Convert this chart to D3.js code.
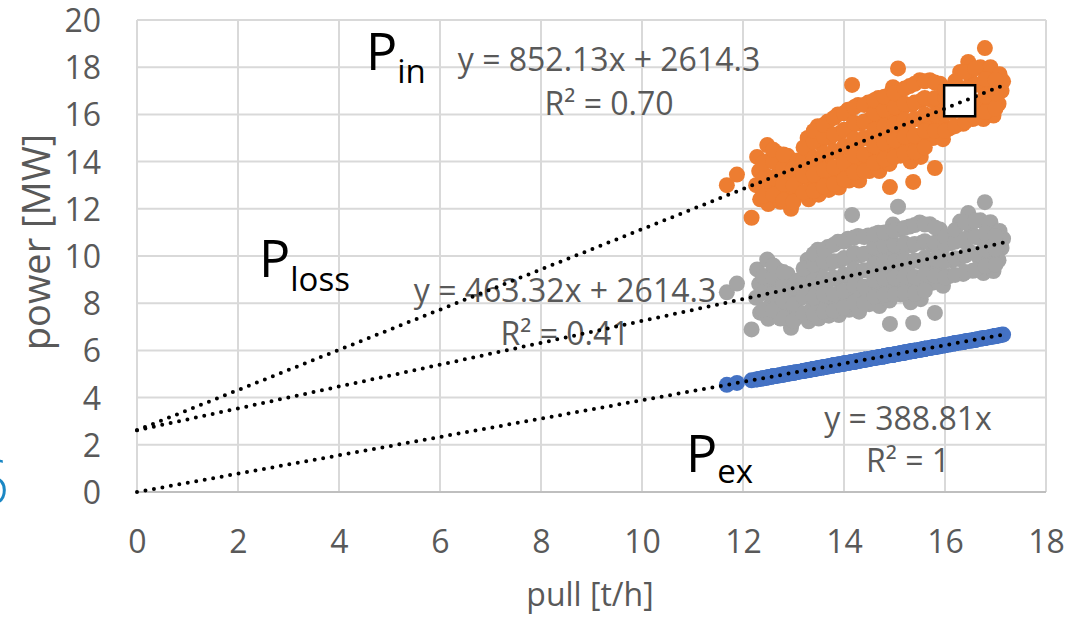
<!DOCTYPE html>
<html>
<head>
<meta charset="utf-8">
<script src="https://cdn.jsdelivr.net/npm/d3@7"></script>
<style>
  html, body { margin: 0; padding: 0; background: #ffffff; }
  svg { display: block; }
  text { font-family: "Open Sans", "Noto Sans", sans-serif; }
</style>
</head>
<body>
<svg id="chart" width="1074" height="617"></svg>
<script>
// Furnace measurements: pull rate [t/h] against power [MW]
const pull = [
  11.68, 11.88, 12.17, 12.28, 12.32, 12.26, 12.34, 12.48, 12.52, 12.46,
  12.55, 12.50, 12.68, 12.72, 12.66, 12.74, 12.88, 12.92, 12.86, 12.95,
  13.08, 13.12, 13.05, 13.28, 13.32, 13.26, 13.35, 13.30, 13.48, 13.52,
  13.46, 13.55, 13.50, 13.68, 13.72, 13.66, 13.75, 13.70, 13.88, 13.92,
  13.86, 13.95, 13.90, 14.16, 14.08, 14.12, 14.06, 14.14, 14.10, 14.28,
  14.32, 14.26, 14.35, 14.30, 14.48, 14.52, 14.46, 14.55, 14.50, 14.68,
  14.72, 14.66, 14.75, 14.70, 14.97, 15.07, 14.88, 14.92, 14.86, 14.95,
  14.90, 14.91, 15.10, 15.14, 15.08, 15.16, 15.12, 15.30, 15.34, 15.28,
  15.36, 15.32, 15.37, 15.50, 15.54, 15.48, 15.56, 15.52, 15.70, 15.74,
  15.68, 15.76, 15.80, 15.90, 15.94, 15.88, 15.96, 16.10, 16.14, 16.08,
  16.30, 16.34, 16.28, 16.36, 16.46, 16.52, 16.48, 16.55, 16.79, 16.70,
  16.74, 16.68, 16.76, 16.90, 16.94, 16.88, 16.96, 17.08, 17.12, 17.06,
  17.15,
  12.40, 12.40, 12.40, 12.60, 12.60, 12.60, 12.60, 12.80, 12.80, 12.80,
  12.80, 13.00, 13.00, 13.00, 13.20, 13.20, 13.20, 13.20, 13.40, 13.40,
  13.40, 13.40, 13.40, 13.60, 13.60, 13.60, 13.60, 13.60, 13.80, 13.80,
  13.80, 13.80, 13.80, 14.00, 14.00, 14.00, 14.00, 14.00, 14.20, 14.20,
  14.20, 14.20, 14.20, 14.40, 14.40, 14.40, 14.40, 14.40, 14.60, 14.60,
  14.60, 14.60, 14.60, 14.80, 14.80, 14.80, 14.80, 14.80, 15.00, 15.00,
  15.00, 15.00, 15.00, 15.20, 15.20, 15.20, 15.20, 15.20, 15.40, 15.40,
  15.40, 15.40, 15.40, 15.60, 15.60, 15.60, 15.60, 15.60, 15.80, 15.80,
  15.80, 15.80, 16.00, 16.00, 16.00, 16.00, 16.20, 16.20, 16.20, 16.20,
  16.40, 16.40, 16.40, 16.40, 16.60, 16.60, 16.60, 16.60, 16.80, 16.80,
  16.80, 17.00, 17.00, 17.00
];

// Input power P_in [MW]
const pIn = [
  13.00, 13.45, 11.62, 14.20, 13.60, 13.00, 12.40, 14.70, 14.05, 13.40,
  12.80, 12.20, 14.35, 13.65, 12.95, 12.30, 14.25, 13.50, 12.70, 12.00,
  14.05, 13.30, 12.60, 15.00, 14.30, 13.60, 12.90, 12.40, 15.50, 14.80,
  14.00, 13.30, 12.60, 15.70, 15.00, 14.20, 13.50, 12.80, 16.00, 15.20,
  14.40, 13.60, 12.90, 17.25, 16.20, 15.40, 14.60, 13.80, 13.20, 16.40,
  15.60, 14.80, 14.00, 13.20, 16.50, 15.80, 15.00, 14.30, 13.60, 16.70,
  15.90, 15.10, 14.30, 13.60, 17.15, 17.95, 16.80, 16.00, 15.20, 14.50,
  13.90, 12.92, 17.00, 16.20, 15.40, 14.60, 14.25, 17.20, 16.40, 15.60,
  14.80, 14.00, 13.14, 17.45, 16.60, 15.80, 15.00, 14.20, 17.45, 16.60,
  15.80, 15.00, 13.73, 17.30, 16.50, 15.70, 14.95, 16.80, 16.10, 15.40,
  17.80, 17.00, 16.20, 15.60, 18.22, 17.40, 16.60, 15.80, 18.81, 18.00,
  17.20, 16.40, 15.80, 18.00, 17.20, 16.40, 15.95, 17.70, 17.00, 16.45,
  17.40,
  12.55, 13.25, 13.95, 12.60, 13.30, 14.00, 14.50, 12.35, 13.05, 13.75,
  14.30, 12.30, 13.00, 13.70, 12.70, 13.40, 14.10, 14.60, 12.75, 13.45,
  14.15, 14.85, 15.30, 12.95, 13.65, 14.35, 15.05, 15.55, 13.05, 13.75,
  14.45, 15.15, 15.85, 13.25, 13.95, 14.65, 15.35, 16.05, 13.55, 14.25,
  14.95, 15.65, 16.30, 13.60, 14.30, 15.00, 15.70, 16.40, 13.95, 14.65,
  15.35, 16.05, 16.60, 14.10, 14.80, 15.50, 16.20, 16.75, 14.20, 14.90,
  15.60, 16.30, 16.90, 14.35, 15.05, 15.75, 16.45, 17.10, 14.40, 15.10,
  15.80, 16.50, 17.30, 14.60, 15.30, 16.00, 16.70, 17.40, 15.30, 16.00,
  16.70, 17.35, 15.30, 16.00, 16.70, 17.05, 15.50, 16.20, 16.90, 17.40,
  15.70, 16.40, 17.10, 17.80, 15.85, 16.55, 17.25, 17.95, 16.10, 16.80,
  17.50, 16.25, 16.90, 17.45
];

// Power carried out with the product P_ex [MW]
const pEx = [
  4.54, 4.62, 4.73, 4.77, 4.79, 4.77, 4.80, 4.85, 4.87, 4.84,
  4.88, 4.86, 4.93, 4.95, 4.92, 4.95, 5.01, 5.02, 5.00, 5.04,
  5.09, 5.10, 5.07, 5.16, 5.18, 5.16, 5.19, 5.17, 5.24, 5.26,
  5.23, 5.27, 5.25, 5.32, 5.33, 5.31, 5.35, 5.33, 5.40, 5.41,
  5.39, 5.42, 5.40, 5.51, 5.47, 5.49, 5.47, 5.50, 5.48, 5.55,
  5.57, 5.54, 5.58, 5.56, 5.63, 5.65, 5.62, 5.66, 5.64, 5.71,
  5.72, 5.70, 5.73, 5.72, 5.82, 5.86, 5.79, 5.80, 5.78, 5.81,
  5.79, 5.80, 5.87, 5.89, 5.86, 5.89, 5.88, 5.95, 5.96, 5.94,
  5.97, 5.96, 5.98, 6.03, 6.04, 6.02, 6.05, 6.03, 6.10, 6.12,
  6.10, 6.13, 6.14, 6.18, 6.20, 6.17, 6.21, 6.26, 6.28, 6.25,
  6.34, 6.35, 6.33, 6.36, 6.40, 6.42, 6.41, 6.43, 6.53, 6.49,
  6.51, 6.49, 6.52, 6.57, 6.59, 6.56, 6.59, 6.64, 6.66, 6.63,
  6.67,
  4.82, 4.82, 4.82, 4.90, 4.90, 4.90, 4.90, 4.98, 4.98, 4.98,
  4.98, 5.05, 5.05, 5.05, 5.13, 5.13, 5.13, 5.13, 5.21, 5.21,
  5.21, 5.21, 5.21, 5.29, 5.29, 5.29, 5.29, 5.29, 5.37, 5.37,
  5.37, 5.37, 5.37, 5.44, 5.44, 5.44, 5.44, 5.44, 5.52, 5.52,
  5.52, 5.52, 5.52, 5.60, 5.60, 5.60, 5.60, 5.60, 5.68, 5.68,
  5.68, 5.68, 5.68, 5.75, 5.75, 5.75, 5.75, 5.75, 5.83, 5.83,
  5.83, 5.83, 5.83, 5.91, 5.91, 5.91, 5.91, 5.91, 5.99, 5.99,
  5.99, 5.99, 5.99, 6.07, 6.07, 6.07, 6.07, 6.07, 6.14, 6.14,
  6.14, 6.14, 6.22, 6.22, 6.22, 6.22, 6.30, 6.30, 6.30, 6.30,
  6.38, 6.38, 6.38, 6.38, 6.45, 6.45, 6.45, 6.45, 6.53, 6.53,
  6.53, 6.61, 6.61, 6.61
];

// Losses P_loss [MW]
const pLoss = [
  8.46, 8.83, 6.89, 9.43, 8.81, 8.23, 7.60, 9.85, 9.18, 8.56,
  7.92, 7.34, 9.42, 8.70, 8.03, 7.35, 9.24, 8.48, 7.70, 6.96,
  8.96, 8.20, 7.53, 9.84, 9.12, 8.44, 7.71, 7.23, 10.26, 9.54,
  8.77, 8.03, 7.35, 10.38, 9.67, 8.89, 8.15, 7.47, 10.60, 9.79,
  9.01, 8.18, 7.50, 11.74, 10.73, 9.91, 9.13, 8.30, 7.72, 10.85,
  10.03, 9.26, 8.42, 7.64, 10.87, 10.15, 9.38, 8.64, 7.96, 10.99,
  10.18, 9.40, 8.57, 7.88, 11.33, 12.09, 11.01, 10.20, 9.42, 8.69,
  8.11, 7.12, 11.13, 10.31, 9.54, 8.71, 8.37, 11.25, 10.44, 9.66,
  8.83, 8.04, 7.16, 11.42, 10.56, 9.78, 8.95, 8.17, 11.35, 10.48,
  9.70, 8.87, 7.59, 11.12, 10.30, 9.53, 8.74, 10.54, 9.82, 9.15,
  11.46, 10.65, 9.87, 9.24, 11.82, 10.98, 10.19, 9.37, 12.28, 11.51,
  10.69, 9.91, 9.28, 11.43, 10.61, 9.84, 9.36, 11.06, 10.34, 9.82,
  10.73,
  7.73, 8.43, 9.13, 7.70, 8.40, 9.10, 9.60, 7.37, 8.07, 8.77,
  9.32, 7.25, 7.95, 8.65, 7.57, 8.27, 8.97, 9.47, 7.54, 8.24,
  8.94, 9.64, 10.09, 7.66, 8.36, 9.06, 9.76, 10.26, 7.68, 8.38,
  9.08, 9.78, 10.48, 7.81, 8.51, 9.21, 9.91, 10.61, 8.03, 8.73,
  9.43, 10.13, 10.78, 8.00, 8.70, 9.40, 10.10, 10.80, 8.27, 8.97,
  9.67, 10.37, 10.92, 8.35, 9.05, 9.75, 10.45, 11.00, 8.37, 9.07,
  9.77, 10.47, 11.07, 8.44, 9.14, 9.84, 10.54, 11.19, 8.41, 9.11,
  9.81, 10.51, 11.31, 8.53, 9.23, 9.93, 10.63, 11.33, 9.16, 9.86,
  10.56, 11.21, 9.08, 9.78, 10.48, 10.83, 9.20, 9.90, 10.60, 11.10,
  9.32, 10.02, 10.72, 11.42, 9.40, 10.10, 10.80, 11.50, 9.57, 10.27,
  10.97, 9.64, 10.29, 10.84
];

// Linear trendlines, coefficients in kW (slope per t/h, intercept)
const trendNames = ["in", "loss", "ex"];
const trendSlope = [852.13, 463.32, 388.81];
const trendIntercept = [2614.3, 2614.3, 0];
const trendEquation = ["y = 852.13x + 2614.3", "y = 463.32x + 2614.3", "y = 388.81x"];
const trendR2 = ["R² = 0.70", "R² = 0.41", "R² = 1"];

// Highlighted operating point (pull, P_in)
const markerPoint = [16.28, 16.6];

const xTicks = [0, 2, 4, 6, 8, 10, 12, 14, 16, 18];
const yTicks = [0, 2, 4, 6, 8, 10, 12, 14, 16, 18, 20];

const colors = { in: "#ED7D31", loss: "#A5A5A5", ex: "#4472C4" };
const textGrey = "#595959";

const svg = d3.select("#chart");
const x = d3.scaleLinear().domain([0, 18]).range([137, 1046]);
const y = d3.scaleLinear().domain([0, 20]).range([492, 20]);

// stray caption glyph at the left edge
svg.append("text")
  .attr("x", 9).attr("y", 504)
  .attr("text-anchor", "end")
  .attr("font-size", 60)
  .attr("font-weight", 300)
  .attr("fill", "#1b87c4")
  .text("6");

// gridlines
const grid = svg.append("g");
grid.selectAll("line.h").data(yTicks.filter(d => d > 0)).join("line")
  .attr("x1", x(0)).attr("x2", x(18))
  .attr("y1", d => y(d)).attr("y2", d => y(d))
  .attr("stroke", "#d9d9d9").attr("stroke-width", 2);
grid.selectAll("line.v").data(xTicks).join("line")
  .attr("x1", d => x(d)).attr("x2", d => x(d))
  .attr("y1", y(0)).attr("y2", y(20))
  .attr("stroke", "#d9d9d9").attr("stroke-width", 2);

// axes (labels only, baseline drawn separately)
const xAxis = d3.axisBottom(x).tickValues(xTicks).tickSize(0).tickPadding(0);
const gx = svg.append("g").attr("transform", `translate(0,${y(0)})`).call(xAxis);
gx.select(".domain").remove();
gx.selectAll("text")
  .attr("dy", null).attr("y", 61)
  .attr("font-size", 32).attr("fill", textGrey)
  .style("font-family", "'Open Sans', sans-serif");

const yAxis = d3.axisLeft(y).tickValues(yTicks).tickSize(0).tickPadding(0);
const gy = svg.append("g").attr("transform", `translate(${x(0)},0)`).call(yAxis);
gy.select(".domain").remove();
gy.selectAll("text")
  .attr("x", -36).attr("dy", "0.36em")
  .attr("font-size", 32).attr("fill", textGrey)
  .style("font-family", "'Open Sans', sans-serif");

svg.append("line")
  .attr("x1", x(0)).attr("x2", x(18))
  .attr("y1", y(0)).attr("y2", y(0))
  .attr("stroke", "#bfbfbf").attr("stroke-width", 2);

// axis titles
svg.append("text")
  .attr("x", 590).attr("y", 606)
  .attr("text-anchor", "middle")
  .attr("font-size", 32).attr("fill", textGrey)
  .text("pull [t/h]");
svg.append("text")
  .attr("transform", "translate(50,242) rotate(-90)")
  .attr("text-anchor", "middle")
  .attr("font-size", 38).attr("fill", textGrey)
  .text("power [MW]");

// scatter series
const r = 8;
const plot = svg.append("g");
plot.append("g").selectAll("circle").data(pull).join("circle")
  .attr("cx", d => x(d)).attr("cy", (d, i) => y(pEx[i])).attr("r", r)
  .attr("fill", colors.ex);
plot.append("g").selectAll("circle").data(pull).join("circle")
  .attr("cx", d => x(d)).attr("cy", (d, i) => y(pIn[i])).attr("r", r)
  .attr("fill", colors.in);
plot.append("g").selectAll("circle").data(pull).join("circle")
  .attr("cx", d => x(d)).attr("cy", (d, i) => y(pLoss[i])).attr("r", r)
  .attr("fill", colors.loss);

// highlighted point
svg.append("rect")
  .attr("x", x(markerPoint[0]) - 15).attr("y", y(markerPoint[1]) - 15)
  .attr("width", 31).attr("height", 31)
  .attr("fill", "#ffffff").attr("stroke", "#000000").attr("stroke-width", 2.5);

// trendline equations
const eqPos = [
  { cx: 609, y1: 71, y2: 115 },
  { cx: 565, y1: 302, y2: 345 },
  { cx: 908, y1: 430, y2: 472 }
];
trendNames.forEach((n, i) => {
  svg.append("text").attr("x", eqPos[i].cx).attr("y", eqPos[i].y1)
    .attr("text-anchor", "middle").attr("font-size", 32).attr("fill", textGrey)
    .text(trendEquation[i]);
  svg.append("text").attr("x", eqPos[i].cx).attr("y", eqPos[i].y2)
    .attr("text-anchor", "middle").attr("font-size", 32).attr("fill", textGrey)
    .text(trendR2[i]);
});

// series names
const nameLabels = [
  { sub: "in", x: 366, y: 70, sy: 83 },
  { sub: "loss", x: 259, y: 277, sy: 291 },
  { sub: "ex", x: 686, y: 472, sy: 483 }
];
nameLabels.forEach(l => {
  const t = svg.append("text").attr("x", l.x).attr("y", l.y)
    .attr("font-size", 52).attr("fill", "#000000");
  t.append("tspan").text("P");
  t.append("tspan").attr("font-size", 33).attr("dy", l.sy - l.y).text(l.sub);
});

// dotted trendlines from x = 0 to the largest pull
const xMax = d3.max(pull);
const line = d3.line().x(d => x(d[0])).y(d => y(d[1]));
trendNames.forEach((n, i) => {
  const f = v => (trendSlope[i] * v + trendIntercept[i]) / 1000;
  svg.append("path")
    .attr("d", line([[0, f(0)], [xMax, f(xMax)]]))
    .attr("fill", "none").attr("stroke", "#000000")
    .attr("stroke-width", 4).attr("stroke-linecap", "round")
    .attr("stroke-dasharray", "0 8.6");
});
</script>
</body>
</html>
